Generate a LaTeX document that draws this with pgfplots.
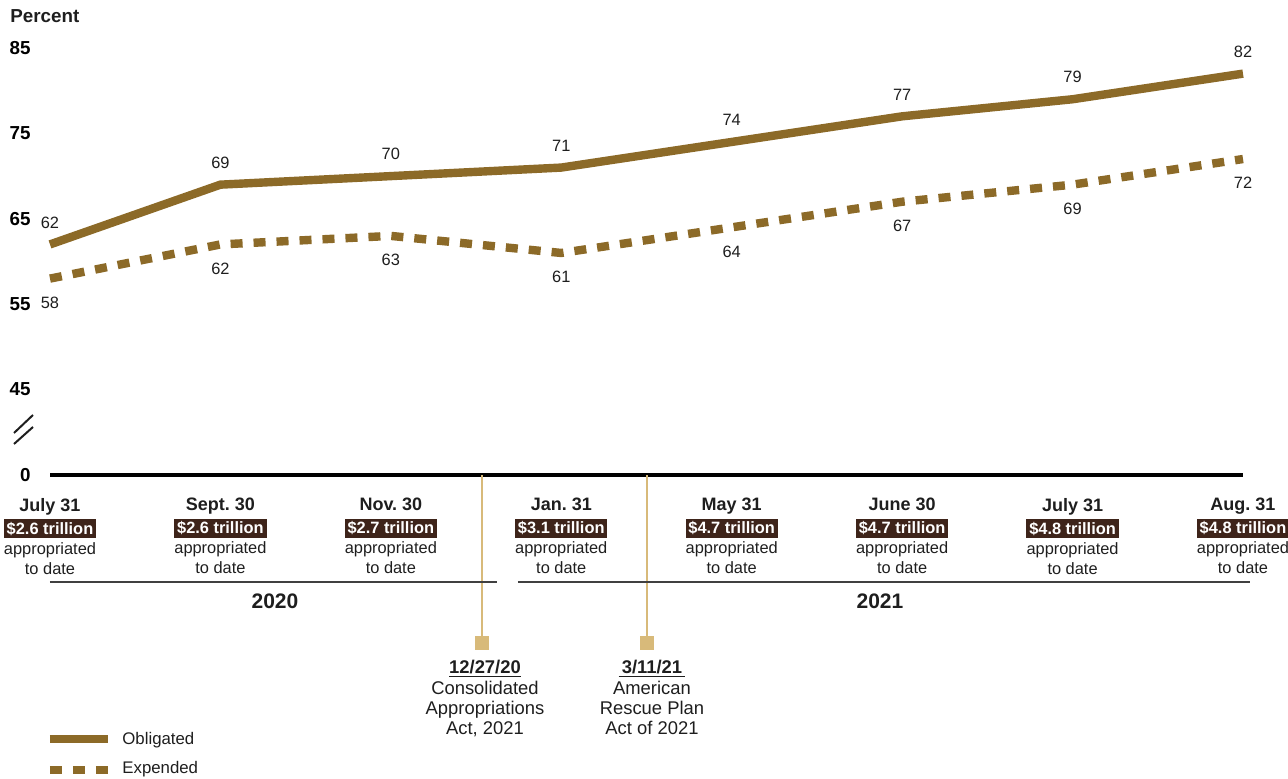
\documentclass[border=0pt]{standalone}
\usepackage{fontspec}
\setmainfont{Liberation Sans}
\usepackage{pgfplots}
\usepackage{pgfplotstable}
\pgfplotsset{compat=1.18}

\definecolor{gold}{HTML}{8C6A28}
\definecolor{eventtan}{HTML}{D8BA7A}
\definecolor{boxbrown}{HTML}{3E241A}
\definecolor{ink}{HTML}{1E1E1E}
\setlength{\fboxsep}{1.4bp}
\frenchspacing

%% share of appropriations obligated / expended, percent
\pgfplotstableread{
idx obligated expended
0   62        58
1   69        62
2   70        63
3   71        61
4   74        64
5   77        67
6   79        69
7   82        72
}\spending

%% date, amount appropriated to date
\newcommand{\approp}[2]{{\fontsize{9bp}{10bp}\selectfont\bfseries #1}\\[1.5bp]%
  \colorbox{boxbrown}{\textcolor{white}{\bfseries\$#2 trillion}}\\appropriated\\to date}

\begin{document}
\begin{tikzpicture}
  \path[use as bounding box] (0bp,0bp) rectangle (644bp,-389.5bp);

  \begin{axis}[
      at={(25bp,-237.5bp)}, anchor=south west,
      scale only axis, width=596.5bp, height=213.5bp,
      xmin=0, xmax=7, ymin=35, ymax=85,
      clip=false,
      axis x line=bottom, axis y line=left,
      x axis line style={line width=2.2bp, black, -},
      y axis line style={draw=none},
      major tick length=0pt, tick style={draw=none},
      ytick={35,45,55,65,75,85},
      yticklabels={0,45,55,65,75,85},
      yticklabel style={font=\fontsize{9.4bp}{11bp}\selectfont\bfseries,
        anchor=east, inner sep=0pt, xshift=-9.5bp},
      xtick={0,...,7},
      xticklabels={
        {\approp{July 31}{2.6}},
        {\approp{Sept. 30}{2.6}},
        {\approp{Nov. 30}{2.7}},
        {\approp{Jan. 31}{3.1}},
        {\approp{May 31}{4.7}},
        {\approp{June 30}{4.7}},
        {\approp{July 31}{4.8}},
        {\approp{Aug. 31}{4.8}}},
      xticklabel style={anchor=north, inner sep=0pt, yshift=-11.5bp,
        align=center, font=\fontsize{8.2bp}{10bp}\selectfont, text=ink},
      /pgf/number format/assume math mode=true,
    ]

    %% --- law signing dates: 12/27/20 and 3/11/21 ---
    \addplot[eventtan, line width=1.1bp, mark=square*, mark size=3bp,
      mark indices={2}, mark options={fill=eventtan, draw=eventtan}]
      coordinates {(2.535,35) (2.535,15.3)};
    \addplot[eventtan, line width=1.1bp, mark=square*, mark size=3bp,
      mark indices={2}, mark options={fill=eventtan, draw=eventtan}]
      coordinates {(3.503,35) (3.503,15.3)};

    %% --- obligated ---
    \addplot[gold, line width=4.2bp, nodes near coords,
      every node near coord/.append style={anchor=south, yshift=6bp,
        inner sep=0pt, text=ink, font=\fontsize{8.2bp}{10bp}\selectfont}]
      table[x=idx, y=obligated] {\spending};

    %% --- expended ---
    \addplot[gold, line width=4.2bp, dash pattern=on 6bp off 5.5bp, nodes near coords,
      every node near coord/.append style={anchor=north, yshift=-7bp,
        inner sep=0pt, text=ink, font=\fontsize{8.2bp}{10bp}\selectfont}]
      table[x=idx, y=expended] {\spending};
  \end{axis}

  %% --- annotations, in pixels of the 1288x779 frame ---
  \begin{scope}[x=0.5bp, y=-0.5bp, text=ink]
    \node[anchor=base west, inner sep=0pt,
      font=\fontsize{9.4bp}{11bp}\selectfont\bfseries] at (10,22) {Percent};

    % axis break
    \draw[line width=1bp, ink] (14,433) -- (33,415) (14,444) -- (33,427);

    % year brackets
    \draw[line width=0.7bp, black!75] (50,582) -- (497,582) (518,582) -- (1250,582);
    \node[inner sep=0pt, font=\fontsize{10.5bp}{12bp}\selectfont\bfseries] at (275,601) {2020};
    \node[inner sep=0pt, font=\fontsize{10.5bp}{12bp}\selectfont\bfseries] at (880,601) {2021};

    % laws
    \node[anchor=north, inner sep=0pt, align=center,
      font=\fontsize{9.2bp}{10bp}\selectfont] at (485,660)
      {\underline{\textbf{12/27/20}}\\[0.5bp]Consolidated\\Appropriations\\Act, 2021};
    \node[anchor=north, inner sep=0pt, align=center,
      font=\fontsize{9.2bp}{10bp}\selectfont] at (652,660)
      {\underline{\textbf{\,3/11/21\,}}\\[0.5bp]American\\Rescue Plan\\Act of 2021};

    % legend
    \draw[gold, line width=4.2bp] (50,739) -- (108,739);
    \draw[gold, line width=4.2bp, dash pattern=on 6bp off 5.5bp] (50,770) -- (108,770);
    \node[anchor=base west, inner sep=0pt, font=\fontsize{8.4bp}{10bp}\selectfont]
      at (122,745) {Obligated};
    \node[anchor=base west, inner sep=0pt, font=\fontsize{8.4bp}{10bp}\selectfont]
      at (122,774) {Expended};
  \end{scope}
\end{tikzpicture}
\end{document}
